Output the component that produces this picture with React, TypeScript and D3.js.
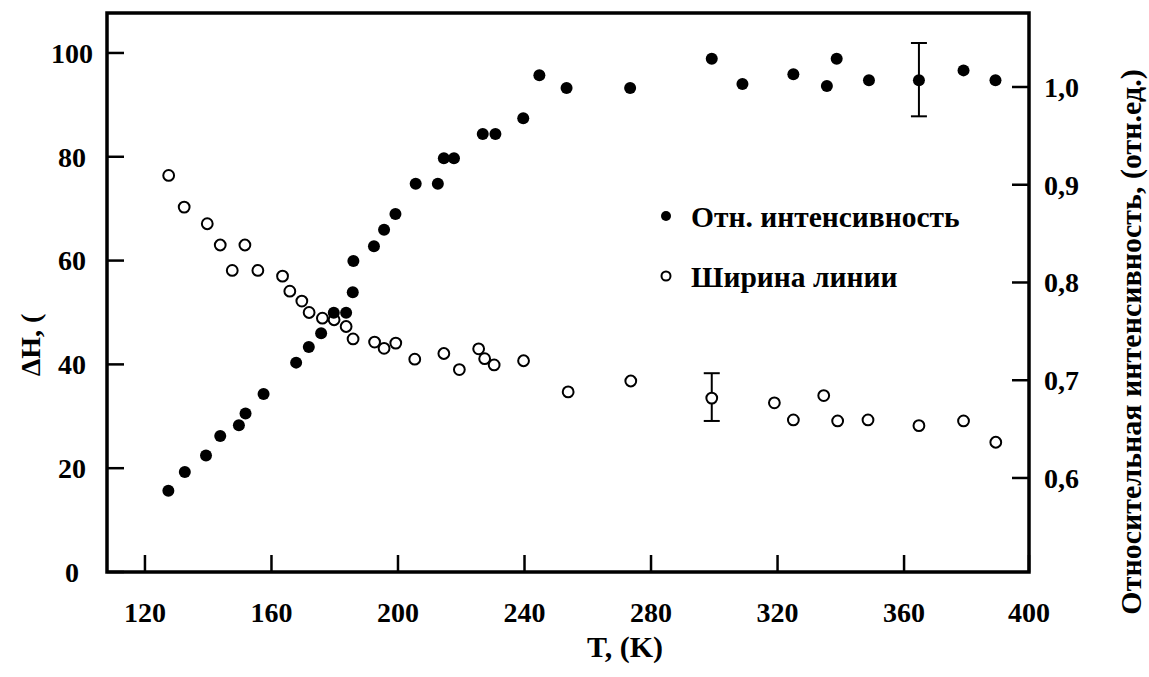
import React from "react";
import * as d3 from "d3";

// Filled circles: relative intensity (right axis)
const tempIntensity = [127.4, 132.6, 139.3, 143.8, 149.7, 151.8, 157.5, 167.8, 171.8, 175.7, 179.7, 183.6, 185.7, 185.9, 192.4, 195.6, 199.2, 205.6, 212.6, 214.5, 217.7, 226.8, 230.8, 239.6, 244.7, 253.3, 273.4, 299.2, 308.9, 325.0, 335.6, 338.7, 348.9, 364.7, 378.8, 388.9];
const intensity = [0.587, 0.606, 0.623, 0.643, 0.654, 0.666, 0.686, 0.718, 0.734, 0.748, 0.769, 0.769, 0.790, 0.822, 0.837, 0.854, 0.870, 0.901, 0.901, 0.927, 0.927, 0.952, 0.952, 0.968, 1.012, 0.999, 0.999, 1.029, 1.003, 1.013, 1.001, 1.029, 1.007, 1.007, 1.017, 1.007];

// Open circles: line width ΔH (left axis)
const tempWidth = [127.5, 132.4, 139.7, 143.8, 147.6, 151.6, 155.7, 163.5, 165.8, 169.6, 171.9, 176.1, 179.8, 183.6, 185.8, 192.6, 195.6, 199.3, 205.3, 214.5, 219.4, 225.5, 227.4, 230.4, 239.7, 253.8, 273.6, 299.2, 319.0, 325.0, 334.6, 339.0, 348.6, 364.7, 378.8, 389.0];
const lineWidth = [76.4, 70.3, 67.1, 63.0, 58.1, 63.0, 58.1, 57.0, 54.1, 52.2, 50.0, 48.9, 48.6, 47.3, 44.9, 44.3, 43.1, 44.1, 41.0, 42.1, 39.0, 43.0, 41.1, 39.9, 40.7, 34.7, 36.8, 33.5, 32.6, 29.3, 34.0, 29.1, 29.3, 28.2, 29.1, 25.0];

// Error bars
const errIntensityT = [364.7];
const errIntensityLo = [0.970];
const errIntensityHi = [1.045];
const errWidthT = [299.2];
const errWidthLo = [29.1];
const errWidthHi = [38.3];

// Ticks
const xTicks = [120, 160, 200, 240, 280, 320, 360, 400];
const yLeftTicks = [0, 20, 40, 60, 80, 100];
const yRightTicks = [0.6, 0.7, 0.8, 0.9, 1.0];

const legendLabels = ["Отн. интенсивность", "Ширина линии"];
const xTitle = "T, (K)";
const yLeftTitle = "ΔH, (";
const yRightTitle = "Относительная интенсивность, (отн.ед.)";

const W = 1149;
const H = 677;
const L = 107, R = 1029, T = 13, B = 572;
const FONT = "'Liberation Serif', 'Times New Roman', serif";

export default function App() {
  const x = d3.scaleLinear().domain([108.0, 399.5]).range([L, R]);
  const yL = d3.scaleLinear().domain([0, 107.7]).range([B, T]);
  const yR = d3.scaleLinear().domain([0.5038, 1.0757]).range([B, T]);
  const fmtR = (v: number) => d3.format(".1f")(v).replace(".", ",");
  const tickLen = 17;

  return (
    <svg width={W} height={H} style={{ position: "absolute", left: 0, top: 0, background: "#fff" }}
      fontFamily={FONT} fontWeight="bold">
      {/* frame */}
      <rect x={L} y={T} width={R - L} height={B - T} fill="none" stroke="#000" strokeWidth={3.5} />

      {/* bottom ticks */}
      {xTicks.map((t) => {
        const xp = Math.min(x(t), R);
        return (
          <g key={"xt" + t}>
            <line x1={xp} x2={xp} y1={B} y2={B - tickLen} stroke="#000" strokeWidth={2.5} />
            <text x={xp} y={612} textAnchor="middle" fontSize={28} dy="0.35em">{t}</text>
          </g>
        );
      })}

      {/* left ticks */}
      {yLeftTicks.map((t) => (
        <g key={"yl" + t}>
          <line x1={L} x2={L + tickLen} y1={yL(t)} y2={yL(t)} stroke="#000" strokeWidth={2.5} />
          <text x={72} y={yL(t)} textAnchor="middle" fontSize={28} dy="0.35em">{t}</text>
        </g>
      ))}

      {/* right ticks */}
      {yRightTicks.map((t) => (
        <g key={"yr" + t}>
          <line x1={R} x2={R - tickLen} y1={yR(t)} y2={yR(t)} stroke="#000" strokeWidth={2.5} />
          <text x={1044} y={yR(t)} textAnchor="start" fontSize={28} dy="0.35em">{fmtR(t)}</text>
        </g>
      ))}

      {/* axis titles */}
      <text x={625} y={646} textAnchor="middle" fontSize={30} dy="0.35em">{xTitle}</text>
      <text transform={`translate(30,345) rotate(-90)`} textAnchor="middle" fontSize={28} dy="0.35em">{yLeftTitle}</text>
      <text transform={`translate(1130,342) rotate(-90)`} textAnchor="middle" fontSize={30} dy="0.35em">{yRightTitle}</text>

      {/* error bars */}
      {errIntensityT.map((t, i) => (
        <g key={"ei" + i} stroke="#000" strokeWidth={2}>
          <line x1={x(t)} x2={x(t)} y1={yR(errIntensityLo[i])} y2={yR(errIntensityHi[i])} />
          <line x1={x(t) - 8} x2={x(t) + 8} y1={yR(errIntensityLo[i])} y2={yR(errIntensityLo[i])} />
          <line x1={x(t) - 8} x2={x(t) + 8} y1={yR(errIntensityHi[i])} y2={yR(errIntensityHi[i])} />
        </g>
      ))}
      {errWidthT.map((t, i) => (
        <g key={"ew" + i} stroke="#000" strokeWidth={2}>
          <line x1={x(t)} x2={x(t)} y1={yL(errWidthLo[i])} y2={yL(errWidthHi[i])} />
          <line x1={x(t) - 8} x2={x(t) + 8} y1={yL(errWidthLo[i])} y2={yL(errWidthLo[i])} />
          <line x1={x(t) - 8} x2={x(t) + 8} y1={yL(errWidthHi[i])} y2={yL(errWidthHi[i])} />
        </g>
      ))}

      {/* open circles: line width */}
      {tempWidth.map((t, i) => (
        <circle key={"w" + i} cx={x(t)} cy={yL(lineWidth[i])} r={5.4} fill="#fff" stroke="#000" strokeWidth={2} />
      ))}

      {/* filled circles: intensity */}
      {tempIntensity.map((t, i) => (
        <circle key={"i" + i} cx={x(t)} cy={yR(intensity[i])} r={6} fill="#000" />
      ))}

      {/* legend */}
      <circle cx={666} cy={216} r={5} fill="#000" />
      <text x={691} y={217} fontSize={29.5} dy="0.35em">{legendLabels[0]}</text>
      <circle cx={666} cy={276} r={4.5} fill="#fff" stroke="#000" strokeWidth={2} />
      <text x={691} y={277} fontSize={29.5} dy="0.35em">{legendLabels[1]}</text>
    </svg>
  );
}
